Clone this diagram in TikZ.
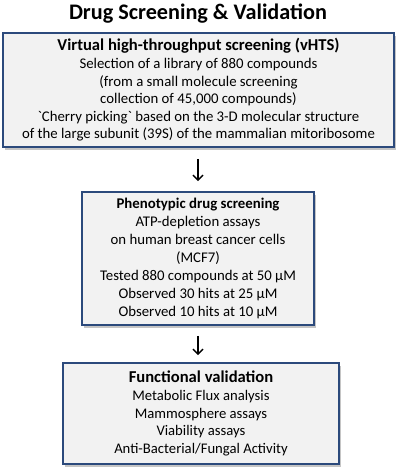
\documentclass[tikz,border=0pt]{standalone}
\usepackage{fontspec}
\setmainfont{Carlito}
\newfontfamily\rawfont{Carlito}
\usetikzlibrary{arrows.meta,shadows}
\definecolor{boxline}{HTML}{2C4A7C}
\definecolor{boxfill}{HTML}{F2F2F2}
\newcommand{\grv}{{\rawfont\symbol{96}}}
\newlength\mymeasure
\newcommand{\fitsize}[4]{% macro, font switch, text, target width
  \settowidth\mymeasure{\fontsize{10}{12}\selectfont#2#3}%
  \pgfmathsetmacro#1{10*#4/\mymeasure}}
\fitsize{\sTitle}{\bfseries}{Drug Screening \& Validation}{258}
\fitsize{\hA}{\bfseries}{Virtual high-throughput screening (vHTS)}{282}
\fitsize{\sA}{}{of the large subunit (39S) of the mammalian mitoribosome}{353}
\fitsize{\hB}{\bfseries}{Phenotypic drug screening}{163}
\fitsize{\sB}{}{Tested 880 compounds at 50 µM}{196}
\fitsize{\hC}{\bfseries}{Functional validation}{144.5}
\fitsize{\sC}{}{Anti-Bacterial/Fungal Activity}{173.5}
\tikzset{
  stagebox/.style={draw=boxline, line width=1.6pt, fill=boxfill, align=center,
    inner sep=0pt,
    drop shadow={shadow xshift=2pt, shadow yshift=-2.5pt, fill=black!45}},
  flowarrow/.style={line width=1.5pt, -{Straight Barb[length=5pt,width=10pt,line width=1.5pt]}}
}
\begin{document}
\begin{tikzpicture}[x=1pt,y=-1pt]
\useasboundingbox (0,0) rectangle (400,472);
\node[font=\fontsize{\sTitle}{24}\selectfont\bfseries] (title) at (198,14) {Drug Screening \& Validation};
\node[stagebox, font=\fontsize{\sA}{17.6}\selectfont, minimum width=391pt, minimum height=114pt] (b1) at (198.5,90)
  {{\fontsize{\hA}{17.6}\selectfont\bfseries Virtual high-throughput screening (vHTS)}\\
   Selection of a library of 880 compounds\\
   (from a small molecule screening\\
   collection of 45,000 compounds)\\
   \grv Cherry picking\grv{} based on the 3-D molecular structure\\
   of the large subunit (39S) of the mammalian mitoribosome};
\node[stagebox, font=\fontsize{\sB}{17.9}\selectfont, minimum width=232pt, minimum height=133pt] (b2) at (198,258.5)
  {{\fontsize{\hB}{17.9}\selectfont\bfseries Phenotypic drug screening}\\
   ATP-depletion assays\\
   on human breast cancer cells\\
   (MCF7)\\
   Tested 880 compounds at 50 µM\\
   Observed 30 hits at 25 µM\\
   Observed 10 hits at 10 µM};
\node[stagebox, font=\fontsize{\sC}{17.7}\selectfont, minimum width=276pt, minimum height=101pt] (b3) at (201,413.5)
  {{\fontsize{\hC}{17.7}\selectfont\bfseries Functional validation}\\
   Metabolic Flux analysis\\
   Mammosphere assays\\
   Viability assays\\
   Anti-Bacterial/Fungal Activity};
\draw[flowarrow, shorten <=11pt, shorten >=10pt] (b1.south -| 198,0) -- (b2.north -| 198,0);
\draw[flowarrow, shorten <=10pt, shorten >=7pt] (b2.south -| 198,0) -- (b3.north -| 198,0);
\end{tikzpicture}
\end{document}
